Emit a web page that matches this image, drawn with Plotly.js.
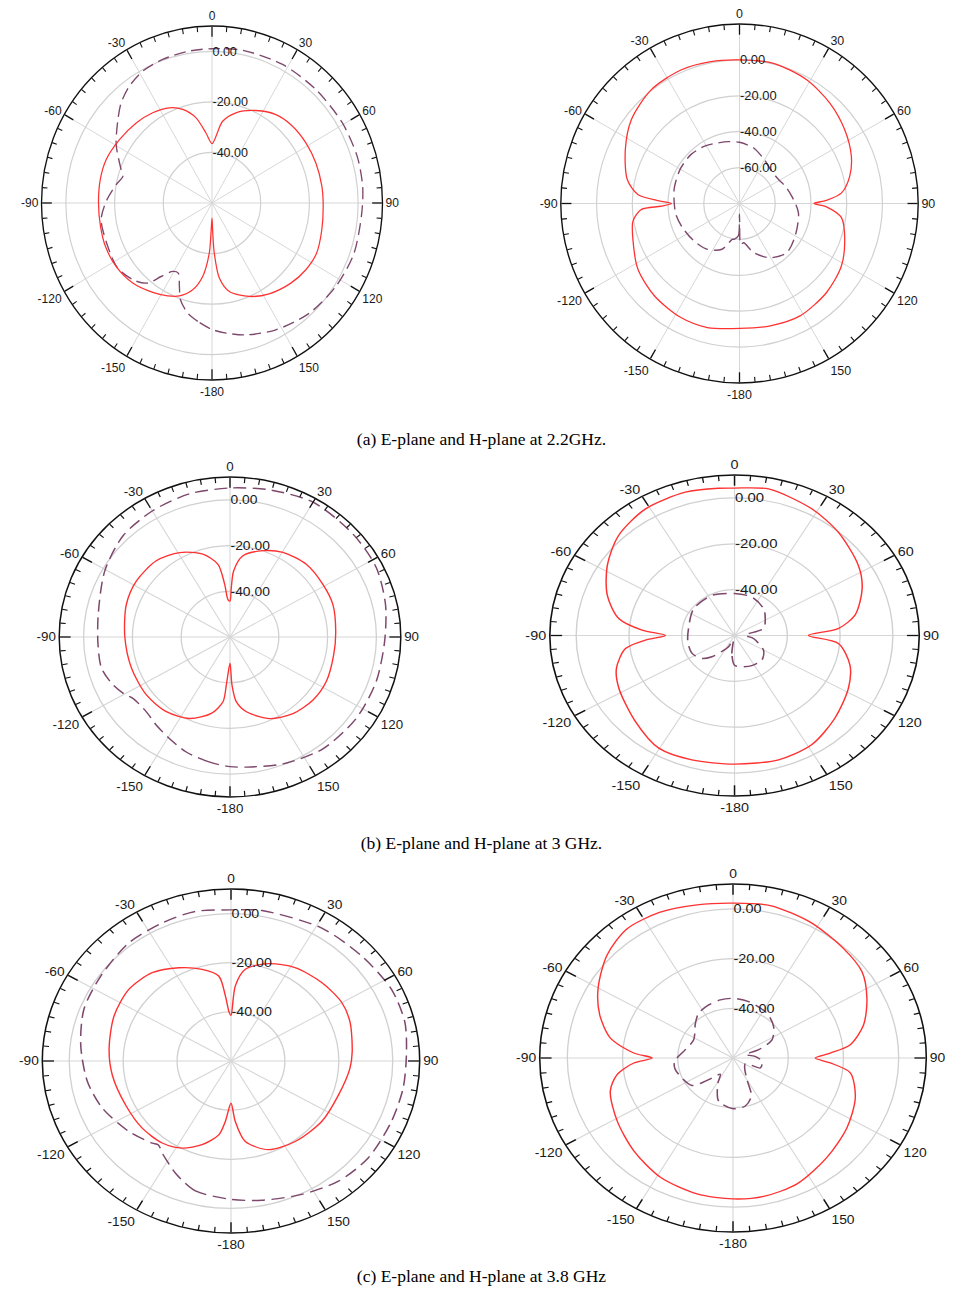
<!DOCTYPE html>
<html><head><meta charset="utf-8">
<script src="https://cdn.plot.ly/plotly-3.0.1.min.js"></script>
<style>
body{margin:0;background:#fff;width:954px;height:1291px;position:relative;overflow:hidden}
.pp{position:absolute}
.cap{position:absolute;left:0;width:963px;text-align:center;font-family:'Liberation Serif','Times New Roman',serif;font-size:17.5px;line-height:20px;color:#000}
</style></head><body>
<div id="p1" class="pp"></div><div id="p2" class="pp"></div>
<div id="p3" class="pp"></div><div id="p4" class="pp"></div>
<div id="p5" class="pp"></div><div id="p6" class="pp"></div>
<div class="cap" style="top:429px">(a) E-plane and H-plane at 2.2GHz.</div>
<div class="cap" style="top:833px">(b) E-plane and H-plane at 3 GHz.</div>
<div class="cap" style="top:1266px">(c) E-plane and H-plane at 3.8 GHz</div>
<script>
// ---- angular tick labels ----
const angTickVals = [0,30,60,90,120,150,180,210,240,270,300,330];
const angTickText = ['0','30','60','90','120','150','-180','-150','-120','-90','-60','-30'];

// ---- (a) 2.2 GHz, E-plane (left) ----
const aE_red_theta = [-180,-178,-176.8,-172.5,-167,-160,-153.6,-145.5,-134.2,-122.5,-111.4,-101.4,-90,-78.6,-68.4,-56.6,-44.5,-34.3,-24.9,-18,-11,-5.1,0,7.7,15.4,26.3,36.9,47.4,58.3,69.6,81.7,90,103.2,114.8,124.4,134.4,146.8,157.5,168.5,174.2,177.3,178.5,180];
const aE_red_db    = [-54,-48,-40.2,-30.7,-24.8,-20.9,-19.0,-17.1,-14.6,-13.3,-13.0,-13.3,-13.4,-13.2,-13.3,-14.5,-15.6,-16.8,-18.5,-21.1,-25.7,-32.2,-36.5,-27.4,-23.0,-19.2,-16.3,-15.1,-14.7,-14.5,-14.4,-14.35,-13.7,-12.7,-13.3,-14.7,-17.1,-20,-24.3,-30.2,-40.2,-48,-54];
const aE_dash_theta = [-180,-172.9,-167.1,-161.3,-157.9,-153.5,-149.2,-144.3,-140.2,-133.9,-123.6,-111.9,-98.3,-89,-79.5,-73.9,-70.5,-59.6,-49.5,-43.3,-36.3,-28.6,-19.6,-8.8,0,11.7,27.9,43.5,59.4,73,84,94,109,123,137.5,152.4,165,173.6,180];
const aE_dash_db    = [-10,-12.8,-15.3,-19.6,-24.4,-29,-28.5,-24.2,-18.8,-15.8,-13.5,-13.9,-14.0,-16.6,-20,-21.9,-20.4,-14.4,-9.2,-5.6,-2.7,-0.6,0.3,0.8,1.0,1.7,2.0,1.9,2.2,2.4,2.2,1.6,1.6,0.6,-0.9,-3.4,-6.0,-8.2,-10];

// ---- (a) 2.2 GHz, H-plane (right) ----
const aH_red_theta = [-180,-165.4,-152.7,-137.3,-122.8,-108.5,-99.3,-93.5,-92,-90,-88,-85,-78,-64.8,-52.4,-38,-23.8,-11.5,0,13.7,28.6,42.1,55.1,67.2,76.2,84.1,88,90,92.2,97.9,108.8,121.4,135.5,151.6,165.8,180];
const aH_red_db    = [-10.4,-8.6,-8.5,-9.9,-12.4,-17.1,-19.6,-24.9,-36,-42,-34.2,-22.9,-15.8,-9.4,-3.6,0.35,1.3,0.7,0,0.4,-1.5,-4.6,-8.2,-12.1,-16.5,-22.6,-31.3,-38.3,-31.3,-22.4,-17.8,-13.2,-10.5,-8.8,-9.7,-10.4];
const aH_dash_theta = [-180,-178,-172,-168.5,-159,-144.9,-129.5,-113,-99.8,-90,-76.6,-59.8,-45,-31.9,-23.2,-10,0,14.4,30,45,58.6,70,82,99,120,136,150.3,163.8,173.7,177,178.6,180];
const aH_dash_db    = [-74,-62,-60,-59.6,-52.7,-48.8,-47.1,-45.4,-43.9,-43.5,-42.5,-41.7,-41.5,-42.5,-43.7,-45,-45.9,-48.1,-52,-54.5,-54.4,-52.5,-50.5,-46.6,-44,-41.9,-45.2,-51.5,-58,-57.5,-57.2,-74];

// ---- (b) 3 GHz, E-plane (left) ----
const bE_red_theta = [-180,-175.9,-174.2,-167.1,-155.1,-141.4,-126.5,-108.7,-90,-71.5,-57.4,-42.2,-29.1,-17,-8.8,-5.4,-2.9,0,1.4,3,8.5,19.7,30.4,44.5,58.8,71.4,86.7,100.4,116.3,129,142.4,155.5,168.4,174.8,177.8,180];
const bE_red_db    = [-48.6,-39,-31.5,-25.7,-20.7,-18.2,-17.4,-17.4,-16.9,-15.2,-14.5,-15.0,-17.7,-22.1,-27.8,-36.9,-43.6,-44.3,-38.4,-31.0,-24.1,-19.9,-17.1,-15.4,-15.5,-15.5,-16.6,-16.8,-16.0,-16.2,-17.7,-20.8,-26.6,-31.6,-39,-48.6];
const bE_dash_theta = [-180,-171.4,-160.4,-150.9,-142,-133.7,-124,-120.2,-113.6,-104.5,-93.6,-79.7,-60.6,-44.7,-29.7,-14.8,0,14.2,30,48.2,63.1,77.4,91.7,108,124.6,142.1,158.6,173.3,180];
const bE_dash_db    = [-3.3,-4.6,-6.6,-9.1,-11,-12.6,-12,-10.1,-7.7,-5.6,-5.8,-5.1,-1.1,2.3,3.7,4.8,5.2,6.4,8.1,7.6,7.2,5.3,3.4,3.0,2.8,2.0,-0.4,-2.7,-3.3];

// ---- (b) 3 GHz, H-plane (right) ----
const bH_red_theta = [-180,-163.4,-149.7,-135,-117.7,-107.8,-97.8,-93.4,-90,-86.2,-80.4,-70,-57.6,-45.2,-31.4,-16.6,-5.4,0,11.4,27.9,41.1,56.9,67.1,79,85.6,90,95,106.4,118.1,133.5,148.5,162.9,180];
const bH_red_db    = [-3.9,-3.4,-3.1,-6.9,-10.5,-13,-18.3,-26.2,-33.8,-24.9,-15.5,-8.7,-2.9,1.9,4.7,5.2,4.5,4.3,5.2,2.5,-0.2,-4.0,-7.5,-13.5,-20.6,-32,-20.5,-14.4,-11.1,-7.6,-4.1,-3.3,-3.9];
const bH_dash_theta = [-180,-172.6,-165,-155.2,-142.3,-137.3,-129,-115.9,-98.9,-80.1,-52.9,-26,0,21.3,43.1,57.5,74.5,88,100.3,120.2,136,153.6,168.5,180];
const bH_dash_db    = [-47,-52.1,-58,-54.6,-50.1,-47.4,-44.1,-42.1,-42.1,-42.3,-40.6,-40.5,-41.7,-42,-43.9,-46.2,-48.6,-56,-52.7,-47.3,-45.1,-45.3,-46.1,-47];

// ---- (c) 3.8 GHz, E-plane (left) ----
const cE_red_theta = [-180,-175.1,-171.4,-162.5,-152.9,-142.6,-129.7,-114.6,-97.5,-83.7,-67,-52.3,-39.1,-27,-16,-7.5,-4.5,-2,0,3,8.1,19.4,32,46.5,59.9,70.3,85.4,94,109.2,126.2,144,158.9,170.8,176.3,180];
const cE_red_db    = [-42.8,-35.3,-29.6,-24.3,-20.2,-18,-17.2,-17,-15.6,-14.5,-12.9,-12.2,-13.7,-17.4,-21.2,-25.1,-33.4,-40.2,-41.5,-29.4,-22.3,-18.0,-15.2,-13.6,-12.5,-13.1,-14.9,-15.8,-17.8,-18.3,-19.5,-21.3,-26.8,-35.3,-42.8];
const cE_dash_theta = [-180,-166,-156.4,-146.6,-141.6,-138.8,-127.2,-112,-99,-83.5,-68.8,-54.4,-38.2,-24.4,-12.2,0,10.6,31.9,48.6,63.9,76.3,88,99.9,112.5,127.8,140.8,154.2,168.6,180];
const cE_dash_db    = [-3.7,-5.5,-9.6,-14.3,-16.5,-15.6,-12.5,-8.6,-6.1,-3.9,-1.5,-0.6,1.2,1.7,2.3,1.5,2.3,3.7,4.6,6.3,6.4,5.1,4.8,4.4,4.4,3.1,0.3,-2.2,-3.7];

// ---- (c) 3.8 GHz, H-plane (right) ----
const cH_red_theta = [-180,-166.6,-151.3,-136.1,-121.1,-106.7,-99,-93.2,-90,-86.8,-79.8,-70.2,-60.2,-47.8,-36.4,-24.2,-11.9,0,12.4,27.1,42.3,53.4,63.7,74.3,82.8,86.8,90,93.2,98,109.9,124.2,139.6,155.4,168.7,180];
const cH_red_db    = [-3.3,-3.8,-5.3,-8.2,-11,-13.6,-17.5,-24,-30.7,-24,-14.9,-8.7,-3.7,1.6,4.6,4.3,3,2.3,2.8,1.4,-0.5,-1.8,-5.9,-10.9,-17.2,-24.7,-30.2,-24.7,-17.1,-12.9,-10.1,-7.5,-4.3,-3.2,-3.3];
const cH_dash_theta = [-180,-163.3,-151.5,-145,-134.6,-126.7,-102.6,-93.6,-79,-62.8,-44.3,-34.6,-22.4,-11.1,0,14,34.4,49.3,62.6,70.3,73.4,85,97.2,112,117,135,149.7,156.6,167,180];
const cH_dash_db    = [-39.6,-41.9,-48.6,-52,-47.6,-41.5,-38.6,-38.8,-42.4,-44,-40.5,-38.1,-36.9,-36.2,-36,-36.6,-38.2,-40.6,-44.1,-50.1,-55.3,-52,-49.4,-49.3,-55,-54,-50,-43.3,-40.2,-39.6];

// ---- radial tick labels ----
const rTicks1 = [0,-20,-40];
const rText1  = ['0.00','-20.00','-40.00'];
const rTicks2 = [0,-20,-40,-60];
const rText2  = ['0.00','-20.00','-40.00','-60.00'];

const RED = 'rgb(255,50,50)';
const DASH = 'rgb(125,72,108)';

const plots = [
  {id:'p1', cx:212.3, cy:202.5, rx:170.5, ry:177, range:[-60,10], rt:rTicks1, rtx:rText1, red:[aE_red_theta,aE_red_db], dash:[aE_dash_theta,aE_dash_db]},
  {id:'p2', cx:739.2, cy:203.5, rx:178.5, ry:179.3, range:[-80,20], rt:rTicks2, rtx:rText2, red:[aH_red_theta,aH_red_db], dash:[aH_dash_theta,aH_dash_db]},
  {id:'p3', cx:230.2, cy:636.7, rx:170.8, ry:160, range:[-60,10], rt:rTicks1, rtx:rText1, red:[bE_red_theta,bE_red_db], dash:[bE_dash_theta,bE_dash_db]},
  {id:'p4', cx:734.5, cy:635.3, rx:184.5, ry:160.3, range:[-60,10], rt:rTicks1, rtx:rText1, red:[bH_red_theta,bH_red_db], dash:[bH_dash_theta,bH_dash_db]},
  {id:'p5', cx:231.3, cy:1061, rx:188.7, ry:172, range:[-60,10], rt:rTicks1, rtx:rText1, red:[cE_red_theta,cE_red_db], dash:[cE_dash_theta,cE_dash_db]},
  {id:'p6', cx:732.7, cy:1057.5, rx:193.3, ry:174, range:[-60,10], rt:rTicks1, rtx:rText1, red:[cH_red_theta,cH_red_db], dash:[cH_dash_theta,cH_dash_db]}
];

const minorTicks = [];
for (let a = 0; a < 360; a += 5) { if (a % 30 !== 0) minorTicks.push(a); }

const angFont = {family:'Liberation Sans, Arial, sans-serif', size:12.5, color:'#1a1a1a'};
const radFont = {family:'Liberation Sans, Arial, sans-serif', size:13, color:'#1a1a1a'};

plots.forEach(p => {
  const m = 40;
  const S = 2*p.ry + 2*m;
  const el = document.getElementById(p.id);
  el.style.left = (p.cx - S/2) + 'px';
  el.style.top = (p.cy - S/2) + 'px';
  el.style.width = S + 'px';
  el.style.height = S + 'px';
  el.style.transformOrigin = '50% 50%';
  el.style.transform = 'scaleX(' + (p.rx/p.ry) + ')';
  const traces = [
    {type:'scatterpolar', subplot:'polar', mode:'lines', theta:p.dash[0], r:p.dash[1],
     line:{color:DASH, width:1.4, dash:'12px,6px', shape:'spline', smoothing:0.8}, hoverinfo:'skip'},
    {type:'scatterpolar', subplot:'polar', mode:'lines', theta:p.red[0], r:p.red[1],
     line:{color:RED, width:1.3, shape:'spline', smoothing:0.8}, hoverinfo:'skip'},
    {type:'scatterpolar', subplot:'polar2', mode:'lines', theta:[], r:[], hoverinfo:'skip'}
  ];
  const layout = {
    width:S, height:S, margin:{l:m, r:m, t:m, b:m},
    paper_bgcolor:'rgba(0,0,0,0)', showlegend:false,
    polar:{
      domain:{x:[0,1], y:[0,1]}, bgcolor:'white',
      angularaxis:{rotation:90, direction:'clockwise', thetaunit:'degrees',
        tickmode:'array', tickvals:angTickVals, ticktext:angTickText,
        ticks:'inside', ticklen:10, tickwidth:1.3, tickcolor:'#111',
        showline:true, linecolor:'#111', linewidth:1.4,
        showgrid:true, gridcolor:'#d6d6d6', gridwidth:1, tickfont:angFont},
      radialaxis:{range:p.range, angle:90, side:'clockwise', tickangle:90,
        tickmode:'array', tickvals:p.rt, ticktext:p.rtx, ticks:'',
        showline:false, showgrid:true, gridcolor:'#d0d0d0', gridwidth:1.2, tickfont:radFont}
    },
    polar2:{
      domain:{x:[0,1], y:[0,1]}, bgcolor:'rgba(0,0,0,0)',
      angularaxis:{rotation:90, direction:'clockwise', tickmode:'array', tickvals:minorTicks,
        ticks:'inside', ticklen:5, tickwidth:1.1, tickcolor:'#111', showticklabels:false,
        showline:false, showgrid:false},
      radialaxis:{visible:false, range:p.range}
    }
  };
  Plotly.newPlot(el, traces, layout, {staticPlot:true, displayModeBar:false});
});
</script>
</body></html>
